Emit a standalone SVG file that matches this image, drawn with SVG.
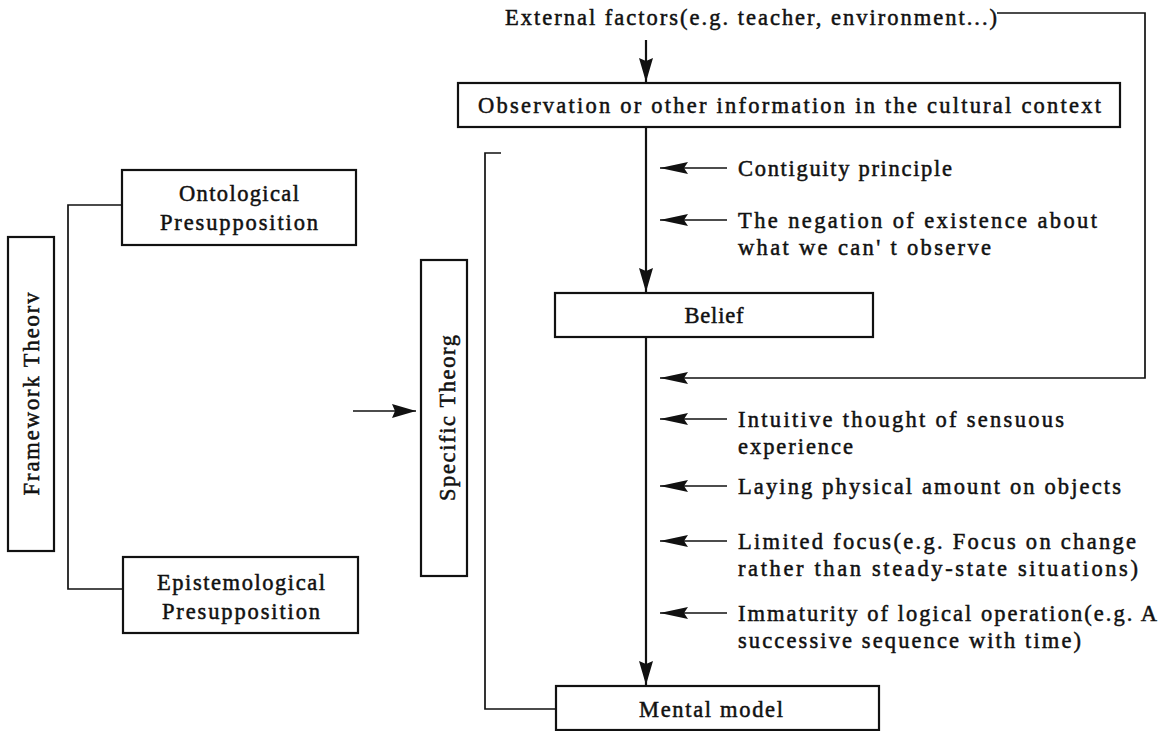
<svg xmlns="http://www.w3.org/2000/svg" width="1169" height="731" viewBox="0 0 1169 731">
<style>
  .box{fill:#fff;stroke:#111;stroke-width:2.2}
  .ln{fill:none;stroke:#111;stroke-width:1.7}
  .main{fill:none;stroke:#111;stroke-width:2.2}
  text{font-family:"Liberation Serif","Times New Roman",serif;font-size:22.5px;fill:#111;stroke:#111;stroke-width:0.5}
  .c{text-anchor:middle}
</style>
<defs>
  <marker id="ahL" viewBox="0 0 28 12" refX="28" refY="6" markerWidth="28" markerHeight="12" orient="auto" markerUnits="userSpaceOnUse">
    <path d="M0,0 L28,6 L0,12 L4,6 Z" fill="#111"/>
  </marker>
  <marker id="ahD" viewBox="0 0 24 14" refX="24" refY="7" markerWidth="24" markerHeight="14" orient="auto" markerUnits="userSpaceOnUse">
    <path d="M0,0 L24,7 L0,14 L3,7 Z" fill="#111"/>
  </marker>
</defs>
<rect width="1169" height="731" fill="#fff"/>

<g id="connectors">
  <path class="ln" d="M122,205 H68 V589 H123"/>
  <path class="ln" d="M353,411 H416" marker-end="url(#ahD)"/>
  <path class="ln" d="M501,153 H485 V709 H556"/>
  <path class="main" d="M646,40 V82" marker-end="url(#ahD)"/>
  <path class="main" d="M646,127 V292" marker-end="url(#ahD)"/>
  <path class="main" d="M646,337 V685" marker-end="url(#ahD)"/>
  <path class="ln" d="M997,13 H1145 V378 H660" marker-end="url(#ahL)"/>
  <path class="ln" d="M727,168 H660" marker-end="url(#ahL)"/>
  <path class="ln" d="M727,220 H660" marker-end="url(#ahL)"/>
  <path class="ln" d="M727,419 H660" marker-end="url(#ahL)"/>
  <path class="ln" d="M727,486 H660" marker-end="url(#ahL)"/>
  <path class="ln" d="M727,541 H660" marker-end="url(#ahL)"/>
  <path class="ln" d="M727,613 H660" marker-end="url(#ahL)"/>
</g>

<g id="framework">
  <rect class="box" x="8" y="237" width="46" height="314"/>
  <text class="c" transform="translate(39,394) rotate(-90)" textLength="203" lengthAdjust="spacing">Framework Theorv</text>
</g>
<g id="ontological">
  <rect class="box" x="122" y="170" width="234" height="75"/>
  <text class="c" x="239" y="201" textLength="120" lengthAdjust="spacing">Ontological</text>
  <text class="c" x="239" y="230" textLength="158" lengthAdjust="spacing">Presupposition</text>
</g>
<g id="epistemological">
  <rect class="box" x="123" y="557" width="235" height="76"/>
  <text class="c" x="241" y="590" textLength="168" lengthAdjust="spacing">Epistemological</text>
  <text class="c" x="241" y="619" textLength="158" lengthAdjust="spacing">Presupposition</text>
</g>
<g id="specific">
  <rect class="box" x="421" y="260" width="46" height="316"/>
  <text class="c" transform="translate(455,418) rotate(-90)" textLength="166" lengthAdjust="spacing">Specific Theorg</text>
</g>
<g id="external">
  <text x="505" y="25" textLength="492" lengthAdjust="spacing">External factors(e.g. teacher, environment...)</text>
</g>
<g id="observation">
  <rect class="box" x="458" y="83" width="662" height="44"/>
  <text x="478" y="113" textLength="623" lengthAdjust="spacing">Observation or other information in the cultural context</text>
</g>
<g id="contiguity">
  <text x="738" y="176" textLength="214" lengthAdjust="spacing">Contiguity principle</text>
</g>
<g id="negation">
  <text x="738" y="228" textLength="359" lengthAdjust="spacing">The negation of existence about</text>
  <text x="738" y="255" textLength="253" lengthAdjust="spacing">what we can' t observe</text>
</g>
<g id="belief">
  <rect class="box" x="555" y="293" width="318" height="44"/>
  <text class="c" x="714" y="323" textLength="59" lengthAdjust="spacing">Belief</text>
</g>
<g id="intuitive">
  <text x="738" y="427" textLength="326" lengthAdjust="spacing">Intuitive thought of sensuous</text>
  <text x="738" y="454" textLength="115" lengthAdjust="spacing">experience</text>
</g>
<g id="laying">
  <text x="738" y="494" textLength="383" lengthAdjust="spacing">Laying physical amount on objects</text>
</g>
<g id="limited">
  <text x="738" y="549" textLength="398" lengthAdjust="spacing">Limited focus(e.g. Focus on change</text>
  <text x="738" y="576" textLength="400" lengthAdjust="spacing">rather than steady-state situations)</text>
</g>
<g id="immaturity">
  <text x="738" y="621" textLength="419" lengthAdjust="spacing">Immaturity of logical operation(e.g. A</text>
  <text x="738" y="648" textLength="343" lengthAdjust="spacing">successive sequence with time)</text>
</g>
<g id="mental">
  <rect class="box" x="556" y="686" width="323" height="44"/>
  <text class="c" x="711" y="717" textLength="144" lengthAdjust="spacing">Mental model</text>
</g>
</svg>
